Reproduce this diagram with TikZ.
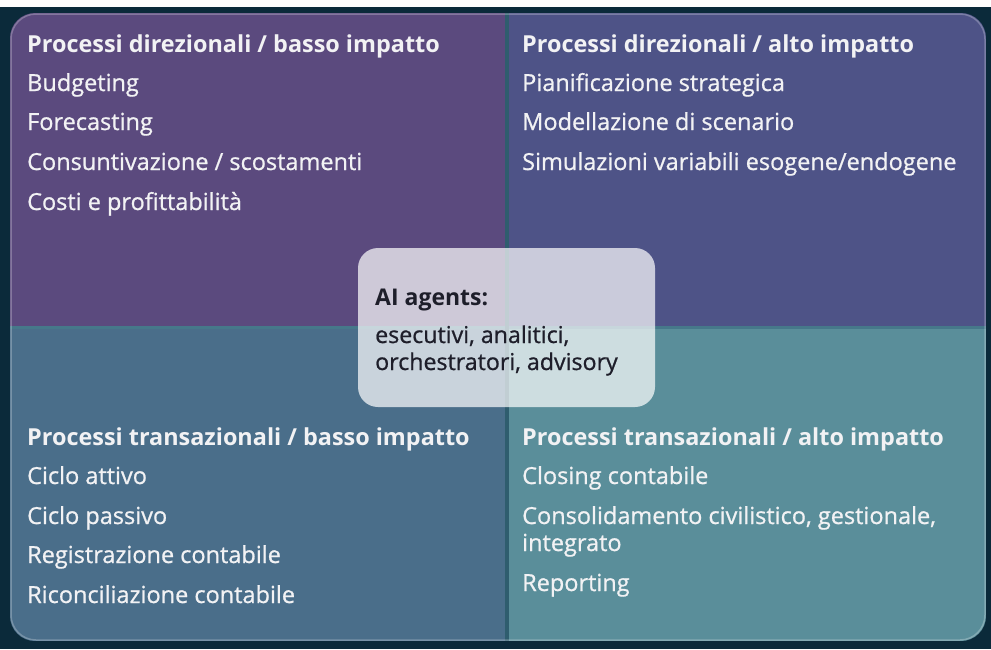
\documentclass[tikz,border=0pt]{standalone}
\usepackage{fontspec}
\setmainfont{Open Sans}
\newfontfamily\semifont[FakeBold=0.8]{Open Sans}
\definecolor{bgdark}{HTML}{0B2A3A}
\definecolor{qTL}{HTML}{5B4A7E}
\definecolor{qTR}{HTML}{4E5387}
\definecolor{qBL}{HTML}{4A6E8A}
\definecolor{qBR}{HTML}{5A8E9A}
\definecolor{divline}{HTML}{2F5D6E}
\definecolor{hdivline}{HTML}{46788A}
\definecolor{txtlight}{HTML}{F2F2F4}
\definecolor{txtdark}{HTML}{1E1E2A}
\tikzset{
  head/.style={anchor=base west, inner sep=0pt, text=txtlight, font=\fontsize{23.4}{27}\selectfont\bfseries},
  item/.style={anchor=base west, inner sep=0pt, text=txtlight, font=\semifont\fontsize{23.5}{27}\selectfont, align=left},
  aibox/.style={fill=white, fill opacity=0.7, rounded corners=20pt, draw=none},
  aihead/.style={anchor=base west, inner sep=0pt, text=txtdark, font=\fontsize{23}{27}\selectfont\bfseries},
  aiitem/.style={anchor=base west, inner sep=0pt, text=txtdark, font=\semifont\fontsize{23.2}{27}\selectfont, align=left},
}
\begin{document}
\begin{tikzpicture}[x=1pt,y=-1pt]
\useasboundingbox (0,0) rectangle (991,649);
\fill[bgdark] (0,0) rectangle (991,649);
\fill[white] (0,0) rectangle (991,7);
\begin{scope}
  \clip[rounded corners=25pt] (10,13) rectangle (986,641);
  \fill[qTL] (10,13) rectangle (507,327);
  \fill[qTR] (507,13) rectangle (986,327);
  \fill[qBL] (10,327) rectangle (507,641);
  \fill[qBR] (507,327) rectangle (986,641);
  \draw[hdivline, line width=3pt] (10,327) -- (986,327);
  \draw[divline, line width=4pt] (507,13) -- (507,641);
\end{scope}
\draw[white, opacity=0.25, line width=1.5pt, rounded corners=25pt] (11,14) rectangle (985,640);
% top-left
\node[head] (tlh) at (27,52) {Processi direzionali / basso impatto};
\node[item] (tl1) at (27,91) {Budgeting};
\node[item] (tl2) at (27,130) {Forecasting};
\node[item] (tl3) at (27,170) {Consuntivazione / scostamenti};
\node[item] (tl4) at (27,210) {Costi e profittabilità};
% top-right
\node[head] (trh) at (522,52) {Processi direzionali / alto impatto};
\node[item] (tr1) at (522,91) {Pianificazione strategica};
\node[item] (tr2) at (522,130) {Modellazione di scenario};
\node[item] (tr3) at (522,170) {Simulazioni variabili esogene/endogene};
% bottom-left
\node[head] (blh) at (27,445) {Processi transazionali / basso impatto};
\node[item] (bl1) at (27,484) {Ciclo attivo};
\node[item] (bl2) at (27,524) {Ciclo passivo};
\node[item] (bl3) at (27,563) {Registrazione contabile};
\node[item] (bl4) at (27,603) {Riconciliazione contabile};
% bottom-right
\node[head] (brh) at (522,445) {Processi transazionali / alto impatto};
\node[item] (br1) at (522,484) {Closing contabile};
\node[item] (br2) at (522,551) {Consolidamento civilistico, gestionale,\\integrato};
\node[item] (br3) at (522,591) {Reporting};
% center box
\path[aibox] (358,248) rectangle (655,407);
\node[aihead] (aih) at (375,305) {AI agents:};
\node[aiitem] (aii) at (375,370) {esecutivi, analitici,\\orchestratori, advisory};
\end{tikzpicture}
\end{document}
